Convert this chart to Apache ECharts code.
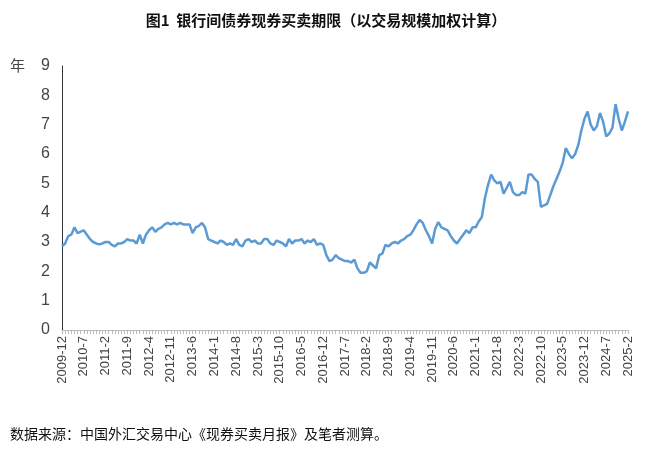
<!DOCTYPE html>
<html><head><meta charset="utf-8">
<script src="https://cdn.jsdelivr.net/npm/echarts@6/dist/echarts.min.js"></script>
<style>body{margin:0}#c{width:652px;height:459px}</style></head>
<body><div id="c"></div>
<script>
const values = [2.85,2.95,3.2,3.25,3.5,3.3,3.35,
3.4,3.25,3.1,3.0,2.95,2.92,2.95,
3.0,3.0,2.9,2.85,2.95,2.95,3.0,3.1,
3.05,3.05,2.95,
3.25,2.95,3.25,3.4,
3.5,3.35,3.45,3.5,3.6,3.65,3.6,
3.65,3.6,3.65,3.6,3.6,3.6,3.3,
3.5,3.55,3.65,3.5,3.1,3.05,3.0,2.95,
3.05,3.0,2.9,2.95,2.9,3.1,
2.9,2.85,3.05,3.1,3.0,3.05,2.95,2.95,
3.1,3.1,2.95,2.9,3.05,
3.0,2.95,2.85,3.1,2.95,3.05,3.05,3.1,
2.95,3.05,3.0,3.1,2.9,2.95,2.9,
2.55,2.35,2.4,2.55,2.45,2.4,
2.35,2.35,2.3,2.4,2.1,1.95,
1.95,2.0,2.3,2.2,2.1,2.55,
2.6,2.9,2.85,2.95,3.0,2.95,3.05,
3.1,3.2,3.25,3.4,3.6,3.75,3.65,
3.4,3.2,2.95,3.45,3.68,3.5,3.45,
3.4,3.2,3.05,2.95,
3.1,3.25,3.4,3.3,3.5,3.5,3.7,
3.85,4.5,4.95,5.3,5.1,5.0,5.05,4.65,
4.85,5.05,4.7,4.6,4.6,4.7,4.65,5.3,
5.3,5.15,5.05,4.2,4.25,4.3,4.6,4.9,5.15,5.4,5.7,6.2,
6.0,5.85,6.0,6.3,6.8,7.2,7.45,
7.0,6.8,6.95,7.4,7.1,6.6,
6.7,6.9,7.7,7.2,6.8,7.1,7.45];
const categories = [];
for (let i = 0; i < values.length; i++) {
  const t = 2009*12 + 11 + i;
  categories.push(Math.floor(t/12) + '-' + (t%12 + 1));
}
const yTicks = [0,1,2,3,4,5,6,7,8,9];
const chart = echarts.init(document.getElementById('c'));
chart.setOption({
  animation:false,
  textStyle:{fontFamily:'Noto Sans CJK SC'},
  title:{text:'图1  银行间债券现券买卖期限（以交易规模加权计算）',left:'center',top:8,
    textStyle:{fontSize:15,fontWeight:'bold',color:'#111',fontFamily:'Noto Sans CJK SC'}},
  graphic:[
    {type:'text',left:10,top:58,style:{text:'年',fontSize:15,fill:'#444',fontFamily:'Noto Sans CJK SC'}},
    {type:'text',left:10,top:427,style:{text:'数据来源：中国外汇交易中心《现券买卖月报》及笔者测算。',fontSize:14,fill:'#111',fontFamily:'Noto Sans CJK SC'}}
  ],
  grid:{left:62,right:24,top:66,bottom:129},
  xAxis:{type:'category',data:categories,boundaryGap:false,
    axisLine:{lineStyle:{color:'#bbb'}},
    axisTick:{show:true,interval:0,length:4,lineStyle:{color:'#bbb'}},
    axisLabel:{interval:6,rotate:90,fontSize:13,color:'#444',fontFamily:'Liberation Sans',margin:6}},
  yAxis:{type:'value',min:yTicks[0],max:yTicks[yTicks.length-1],interval:1,
    axisLine:{show:true,lineStyle:{color:'#333'}},axisTick:{show:false},splitLine:{show:false},
    axisLabel:{fontSize:16,color:'#444',fontFamily:'Liberation Sans',margin:12}},
  series:[{type:'line',data:values,symbol:'none',lineStyle:{color:'#5B9BD5',width:2.5}}]
});
</script></body></html>
